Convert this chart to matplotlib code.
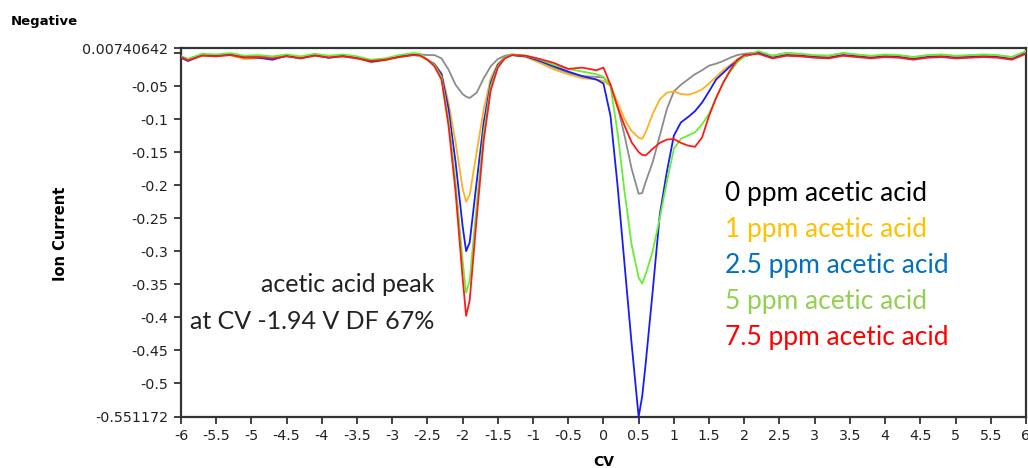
import numpy as np
import matplotlib
matplotlib.use('Agg')
import matplotlib.pyplot as plt

# CV axis positions (variable spacing, denser around peaks)
cv = [-6.0, -5.9, -5.7, -5.5, -5.3, -5.1, -4.9, -4.7, -4.5, -4.3, -4.1, -3.9, -3.7, -3.5, -3.3, -3.1, -2.9, -2.7, -2.6,
      -2.5, -2.4, -2.3, -2.2, -2.1, -2.0, -1.95, -1.9, -1.8, -1.7, -1.6, -1.5, -1.4, -1.3,
      -1.1, -0.9, -0.7, -0.5, -0.3, -0.1, 0.0,
      0.1, 0.2, 0.3, 0.4, 0.5, 0.55, 0.6, 0.7, 0.8, 0.9, 1.0, 1.1, 1.2, 1.3, 1.4, 1.5, 1.6, 1.7, 1.8, 1.9, 2.0,
      2.2, 2.4, 2.6, 2.8, 3.0, 3.2, 3.4, 3.6, 3.8, 4.0, 4.2, 4.4, 4.6, 4.8, 5.0, 5.2, 5.4, 5.6, 5.8, 6.0]

ppm0 = [-0.005, -0.009, -0.002, -0.003, -0.001, -0.005, -0.004, -0.006, -0.003, -0.006, -0.002, -0.005, -0.003, -0.006, -0.012, -0.010, -0.004, -0.001, -0.002,
        -0.003, -0.003, -0.008, -0.025, -0.048, -0.062, -0.066, -0.068, -0.060, -0.038, -0.020, -0.009, -0.004, -0.002,
        -0.004, -0.013, -0.022, -0.030, -0.035, -0.036, -0.037,
        -0.048, -0.080, -0.125, -0.175, -0.213, -0.212, -0.195, -0.165, -0.125, -0.085, -0.058, -0.048, -0.040, -0.032, -0.026, -0.019, -0.016, -0.012, -0.007, -0.003, -0.001,
        0.001, -0.004, 0.000, -0.002, -0.004, -0.004, 0.000, -0.003, -0.005, -0.003, -0.004, -0.006, -0.004, -0.003, -0.005, -0.004, -0.003, -0.004, -0.006, 0.002]

ppm1 = [-0.006, -0.010, -0.003, -0.004, -0.003, -0.009, -0.008, -0.007, -0.004, -0.007, -0.003, -0.006, -0.005, -0.008, -0.014, -0.011, -0.006, -0.003, -0.004,
        -0.010, -0.016, -0.030, -0.075, -0.135, -0.205, -0.225, -0.215, -0.150, -0.085, -0.038, -0.016, -0.006, -0.003,
        -0.006, -0.015, -0.025, -0.032, -0.038, -0.040, -0.042,
        -0.050, -0.075, -0.100, -0.118, -0.128, -0.130, -0.120, -0.092, -0.070, -0.060, -0.058, -0.062, -0.063, -0.060, -0.055, -0.046, -0.036, -0.026, -0.018, -0.010, -0.004,
        0.001, -0.005, -0.002, -0.003, -0.005, -0.005, -0.002, -0.004, -0.006, -0.004, -0.005, -0.008, -0.005, -0.004, -0.006, -0.005, -0.004, -0.005, -0.008, 0.001]

ppm25 = [-0.007, -0.012, -0.003, -0.004, -0.002, -0.006, -0.007, -0.010, -0.004, -0.008, -0.003, -0.007, -0.004, -0.007, -0.013, -0.010, -0.005, -0.002, -0.003,
         -0.010, -0.017, -0.032, -0.085, -0.165, -0.262, -0.300, -0.287, -0.195, -0.105, -0.045, -0.018, -0.007, -0.003,
         -0.005, -0.012, -0.020, -0.028, -0.035, -0.040, -0.046,
         -0.095, -0.200, -0.320, -0.440, -0.551, -0.520, -0.470, -0.360, -0.245, -0.180, -0.125, -0.105, -0.097, -0.088, -0.075, -0.058, -0.040, -0.030, -0.020, -0.012, -0.005,
         0.001, -0.007, -0.003, -0.004, -0.006, -0.007, -0.003, -0.005, -0.007, -0.005, -0.006, -0.009, -0.006, -0.005, -0.007, -0.006, -0.005, -0.006, -0.009, 0.000]

ppm5 = [-0.005, -0.009, -0.001, -0.002, 0.000, -0.004, -0.003, -0.005, -0.002, -0.005, -0.001, -0.004, -0.002, -0.005, -0.010, -0.008, -0.003, 0.000, -0.001,
        -0.010, -0.018, -0.036, -0.100, -0.195, -0.315, -0.363, -0.345, -0.230, -0.120, -0.050, -0.020, -0.007, -0.002,
        -0.004, -0.010, -0.018, -0.024, -0.028, -0.032, -0.036,
        -0.050, -0.120, -0.210, -0.290, -0.340, -0.349, -0.335, -0.300, -0.250, -0.195, -0.145, -0.130, -0.125, -0.120, -0.108, -0.092, -0.068, -0.045, -0.028, -0.014, -0.005,
        0.003, -0.004, 0.000, -0.001, -0.003, -0.004, 0.000, -0.002, -0.004, -0.002, -0.003, -0.006, -0.003, -0.002, -0.004, -0.003, -0.002, -0.003, -0.006, 0.003]

ppm75 = [-0.006, -0.011, -0.004, -0.005, -0.003, -0.007, -0.006, -0.008, -0.005, -0.008, -0.004, -0.007, -0.005, -0.008, -0.012, -0.010, -0.006, -0.003, -0.004,
         -0.010, -0.020, -0.040, -0.110, -0.210, -0.340, -0.398, -0.375, -0.250, -0.132, -0.056, -0.022, -0.008, -0.003,
         -0.004, -0.009, -0.015, -0.024, -0.022, -0.026, -0.022,
         -0.048, -0.082, -0.110, -0.135, -0.150, -0.154, -0.155, -0.145, -0.136, -0.131, -0.130, -0.136, -0.140, -0.142, -0.128, -0.095, -0.068, -0.045, -0.026, -0.010, -0.003,
         -0.001, -0.008, -0.004, -0.005, -0.007, -0.008, -0.004, -0.006, -0.008, -0.006, -0.007, -0.010, -0.007, -0.006, -0.008, -0.007, -0.006, -0.007, -0.010, -0.001]

series_labels = ['0 ppm acetic acid', '1 ppm acetic acid', '2.5 ppm acetic acid',
                 '5 ppm acetic acid', '7.5 ppm acetic acid']
line_colors = ['#8c8c8c', '#ffb020', '#1a1aff', '#66ee33', '#ff1a1a']
text_colors = ['#000000', '#ffc000', '#0070c0', '#92d050', '#ff0000']

y_top, y_bot = 0.00740642, -0.551172
yticks = [y_top, 0.0, -0.05, -0.1, -0.15, -0.2, -0.25, -0.3, -0.35, -0.4, -0.45, -0.5, y_bot]
ytick_labels = ['0.00740642', '', '-0.05', '-0.1', '-0.15', '-0.2', '-0.25', '-0.3', '-0.35',
                '-0.4', '-0.45', '-0.5', '-0.551172']
xticks = np.arange(-6, 6.01, 0.5)

TEXT_FONT = ['Lato', 'DejaVu Sans']


def fmt(v):
    return f'{v:g}'


def main():
    fig = plt.figure(figsize=(10.28, 4.68), dpi=100)
    ax = fig.add_axes([0.176, 0.109, 0.822, 0.788])

    # grey first so coloured traces sit on top, red last
    for ys, c in zip([ppm0, ppm1, ppm25, ppm5, ppm75], line_colors):
        ax.plot(cv, ys, color=c, lw=1.3, zorder=3)

    ax.set_xlim(-6, 6)
    ax.set_ylim(y_bot, y_top)
    ax.set_xticks(xticks)
    ax.set_xticklabels([fmt(v) for v in xticks])
    ax.set_yticks(yticks)
    ax.set_yticklabels(ytick_labels)
    ax.tick_params(direction='out', length=5, width=1.3, color='#333333',
                   labelsize=10.3, labelcolor='#222222', pad=4)
    for s in ax.spines.values():
        s.set_color('#333333')
        s.set_linewidth(1.6)

    ax.set_xlabel('CV', fontsize=10, fontweight='bold', labelpad=8)
    fig.text(0.059, 0.5, 'Ion Current', fontsize=10.5, fontweight='bold',
             rotation=90, ha='center', va='center')
    fig.text(0.01, 0.955, 'Negative', fontsize=9.5, fontweight='bold', va='center')

    ax.text(-2.4, -0.351, 'acetic acid peak', fontsize=18, family=TEXT_FONT,
            ha='right', va='center', color='#222222')
    ax.text(-2.4, -0.407, 'at CV -1.94 V DF 67%', fontsize=18, family=TEXT_FONT,
            ha='right', va='center', color='#222222')

    for i, (lab, c) in enumerate(zip(series_labels, text_colors)):
        ax.text(1.72, -0.2125 - i * 0.0545, lab, fontsize=19, family=TEXT_FONT,
                ha='left', va='center', color=c)

    fig.savefig('out.png', dpi=100)


if __name__ == '__main__':
    main()
